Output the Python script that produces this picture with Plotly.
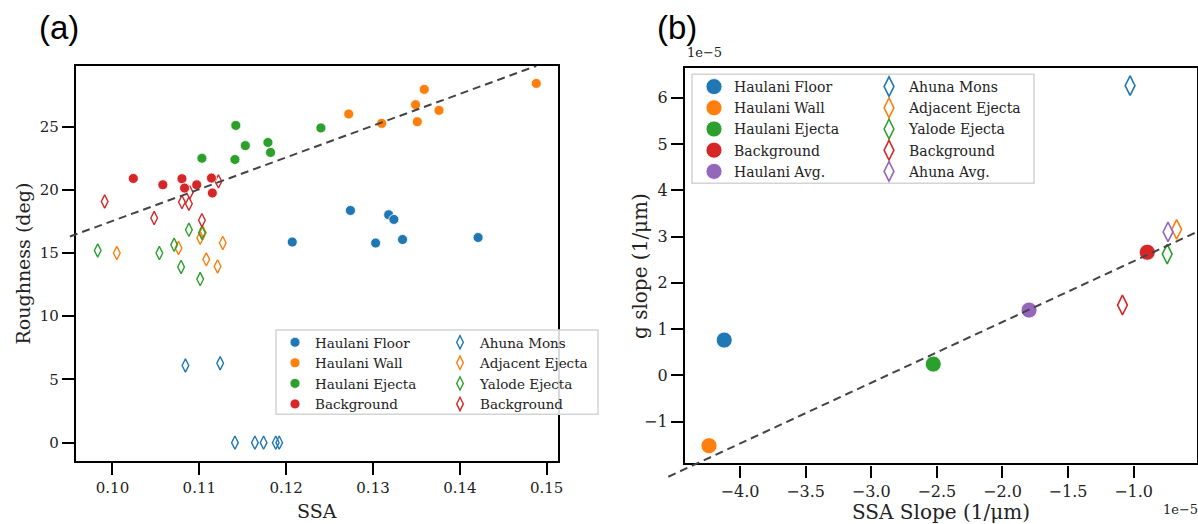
import plotly.graph_objects as go

# ---------------- Panel (a): SSA vs Roughness (deg) ----------------
haulani_floor_ssa = [0.1207, 0.1274, 0.1318, 0.1324, 0.1303, 0.1334, 0.1421]
haulani_floor_rough = [15.87, 18.37, 18.03, 17.66, 15.79, 16.07, 16.23]
haulani_wall_ssa = [0.1272, 0.1310, 0.1349, 0.1359, 0.1351, 0.1376, 0.1488]
haulani_wall_rough = [26.0, 25.26, 26.74, 27.95, 25.39, 26.29, 28.42]
haulani_ejecta_ssa = [0.1103, 0.1141, 0.1142, 0.1153, 0.1179, 0.1182, 0.1240]
haulani_ejecta_rough = [22.5, 22.4, 25.1, 23.5, 23.75, 22.96, 24.9]
background_h_ssa = [0.1024, 0.1058, 0.1080, 0.1083, 0.1097, 0.1114, 0.1115]
background_h_rough = [20.9, 20.4, 20.88, 20.14, 20.4, 20.93, 19.75]

ahuna_mons_ssa = [0.1084, 0.1124, 0.1141, 0.1164, 0.1174, 0.1188, 0.1192]
ahuna_mons_rough = [6.1, 6.28, 0.0, 0.0, 0.0, 0.0, 0.0]
adjacent_ejecta_ssa = [0.1005, 0.1076, 0.1101, 0.1104, 0.1127, 0.1108, 0.1121]
adjacent_ejecta_rough = [15.0, 15.4, 16.2, 16.6, 15.8, 14.5, 13.94]
yalode_ejecta_ssa = [0.0983, 0.1054, 0.1071, 0.1088, 0.1103, 0.1079, 0.1101]
yalode_ejecta_rough = [15.2, 15.0, 15.65, 16.84, 16.6, 13.9, 12.94]
background_a_ssa = [0.0991, 0.1048, 0.1080, 0.1088, 0.1089, 0.1103, 0.1122]
background_a_rough = [19.08, 17.77, 19.03, 18.9, 19.8, 17.6, 20.67]

fit_a_slope = 251.3
fit_a_intercept = -7.59
fit_a_x = [0.0951, 0.1488]

# ---------------- Panel (b): SSA slope vs g slope (units of 1e-5) ----------------
b_circle_names = ["Haulani Floor", "Haulani Wall", "Haulani Ejecta", "Background", "Haulani Avg."]
b_circle_x = [-4.12, -4.236, -2.527, -0.896, -1.797]
b_circle_y = [0.763, -1.52, 0.244, 2.66, 1.41]
b_diamond_names = ["Ahuna Mons", "Adjacent Ejecta", "Yalode Ejecta", "Background", "Ahuna Avg."]
b_diamond_x = [-1.027, -0.672, -0.744, -1.085, -0.738]
b_diamond_y = [6.26, 3.155, 2.62, 1.52, 3.10]

fit_b_slope = 1.313
fit_b_intercept = 3.779
fit_b_x = [-4.546, -0.45]

# ---------------- styling ----------------
OFF = 0                      # body margin removed by post_script below
W, H = 1198, 524
C = ["#1f77b4", "#ff7f0e", "#2ca02c", "#d62728", "#9467bd"]
SERIF = "DejaVu Serif"
TXT = "#222222"


def px(p):
    return (p - OFF) / W


def py(p):
    return 1 - (p - OFF) / H


def dom_x(p0, p1):
    return [max(0, px(p0)), min(1, px(p1))]


def dom_y(top, bottom):
    return [max(0, py(bottom)), min(1, py(top))]


def ext_range(r0, r1, p0, p1, q0, q1):
    s = (r1 - r0) / (p1 - p0)
    return [r0 + (q0 - p0) * s, r0 + (q1 - p0) * s]


# panel a geometry (window pixels)
A_L, A_R, A_T, A_B = 76, 558, 66, 460.7
A_XR = [0.0958, 0.1513]
A_YR = [-1.43, 29.8]
# panel b geometry
B_L, B_R, B_T, B_B = 685, 1197, 68.3, 463.3
B_XR = [-4.419, -0.517]
B_YR = [-1.90, 6.635]

fig = go.Figure()

# ----- panel (a) traces: diamonds first, circles on top -----
a_diamonds = [
    ("Ahuna Mons", ahuna_mons_ssa, ahuna_mons_rough, C[0]),
    ("Adjacent Ejecta", adjacent_ejecta_ssa, adjacent_ejecta_rough, C[1]),
    ("Yalode Ejecta", yalode_ejecta_ssa, yalode_ejecta_rough, C[2]),
    ("Background", background_a_ssa, background_a_rough, C[3]),
]
for name, xs, ys, col in a_diamonds:
    fig.add_trace(go.Scatter(
        x=xs, y=ys, mode="markers", name=name, legend="legend2",
        marker=dict(symbol="diamond-tall-open", size=9.5, color=col,
                    line=dict(width=1.4, color=col)),
        xaxis="x", yaxis="y"))

a_circles = [
    ("Haulani Floor", haulani_floor_ssa, haulani_floor_rough, C[0]),
    ("Haulani Wall", haulani_wall_ssa, haulani_wall_rough, C[1]),
    ("Haulani Ejecta", haulani_ejecta_ssa, haulani_ejecta_rough, C[2]),
    ("Background", background_h_ssa, background_h_rough, C[3]),
]
for name, xs, ys, col in a_circles:
    fig.add_trace(go.Scatter(
        x=xs, y=ys, mode="markers", name=name, legend="legend",
        marker=dict(symbol="circle", size=10, color=col,
                    line=dict(width=0.8, color="white")),
        xaxis="x", yaxis="y"))

# ----- panel (b) traces -----
for name, xv, yv, col in zip(b_diamond_names, b_diamond_x, b_diamond_y, C):
    fig.add_trace(go.Scatter(
        x=[xv], y=[yv], mode="markers", name=name, legend="legend4",
        marker=dict(symbol="diamond-tall-open", size=14, color=col,
                    line=dict(width=1.6, color=col)),
        xaxis="x2", yaxis="y2"))
for name, xv, yv, col in zip(b_circle_names, b_circle_x, b_circle_y, C):
    fig.add_trace(go.Scatter(
        x=[xv], y=[yv], mode="markers", name=name, legend="legend3",
        marker=dict(symbol="circle", size=16, color=col,
                    line=dict(width=0.8, color="white")),
        xaxis="x2", yaxis="y2"))

# ----- fit lines on extended (invisible) overlay axes so they can run past the spines -----
fig.add_trace(go.Scatter(
    x=fit_a_x, y=[fit_a_slope * v + fit_a_intercept for v in fit_a_x],
    mode="lines", showlegend=False, hoverinfo="skip",
    line=dict(color="#444444", width=2, dash="8px,5px"),
    xaxis="x3", yaxis="y3"))
fig.add_trace(go.Scatter(
    x=fit_b_x, y=[fit_b_slope * v + fit_b_intercept for v in fit_b_x],
    mode="lines", showlegend=False, hoverinfo="skip",
    line=dict(color="#444444", width=2, dash="8px,5px"),
    xaxis="x4", yaxis="y4"))

axis_common = dict(
    showline=True, linecolor="black", linewidth=2.4, mirror=True,
    ticks="outside", ticklen=12, tickwidth=2.2, tickcolor="black",
    showgrid=False, zeroline=False, automargin=False,
)

# extended overlay ranges
A_EXT = dict(L=60, R=558, T=66, B=482)
B_EXT = dict(L=650, R=1198, T=68.3, B=492)
a3x = ext_range(A_XR[0], A_XR[1], A_L, A_R, A_EXT["L"], A_EXT["R"])
a3y = ext_range(A_YR[0], A_YR[1], -A_B, -A_T, -A_EXT["B"], -A_EXT["T"])
b4x = ext_range(B_XR[0], B_XR[1], B_L, B_R, B_EXT["L"], B_EXT["R"])
b4y = ext_range(B_YR[0], B_YR[1], -B_B, -B_T, -B_EXT["B"], -B_EXT["T"])

leg_common = dict(xanchor="left", yanchor="top", bgcolor="rgba(0,0,0,0)",
                  borderwidth=0, tracegroupgap=0)

fig.update_layout(
    width=W, height=H,
    margin=dict(l=0, r=0, t=0, b=0),
    paper_bgcolor="white", plot_bgcolor="rgba(0,0,0,0)",
    font=dict(family=SERIF, color=TXT),
    xaxis=dict(domain=dom_x(A_L, A_R), range=A_XR, anchor="y",
               tick0=0.10, dtick=0.01, tickformat=".2f",
               tickfont=dict(family=SERIF, size=15, color=TXT), **axis_common),
    yaxis=dict(domain=dom_y(A_T, A_B), range=A_YR, anchor="x",
               tick0=0, dtick=5,
               tickfont=dict(family=SERIF, size=15, color=TXT), **axis_common),
    xaxis2=dict(domain=dom_x(B_L, B_R), range=B_XR, anchor="y2",
                tick0=-4.0, dtick=0.5, tickformat=".1f",
                tickfont=dict(family=SERIF, size=16, color=TXT), **axis_common),
    yaxis2=dict(domain=dom_y(B_T, B_B), range=B_YR, anchor="x2",
                tick0=0, dtick=1,
                tickfont=dict(family=SERIF, size=16, color=TXT), **axis_common),
    xaxis3=dict(domain=dom_x(A_EXT["L"], A_EXT["R"]), range=a3x, anchor="y3", visible=False),
    yaxis3=dict(domain=dom_y(A_EXT["T"], A_EXT["B"]), range=a3y, anchor="x3", visible=False),
    xaxis4=dict(domain=dom_x(B_EXT["L"], B_EXT["R"]), range=b4x, anchor="y4", visible=False),
    yaxis4=dict(domain=dom_y(B_EXT["T"], B_EXT["B"]), range=b4y, anchor="x4", visible=False),
    legend=dict(x=px(275), y=py(327), font=dict(family=SERIF, size=13.5, color=TXT), **leg_common),
    legend2=dict(x=px(440), y=py(327), font=dict(family=SERIF, size=13.5, color=TXT), **leg_common),
    legend3=dict(x=px(694), y=py(71), font=dict(family=SERIF, size=14, color=TXT), **leg_common),
    legend4=dict(x=px(869), y=py(71), font=dict(family=SERIF, size=14, color=TXT), **leg_common),
)

# legend frames
for (x0, x1, y0, y1) in [(276, 598, 330, 414.3), (692, 1034, 74.3, 183.3)]:
    fig.add_shape(type="rect", xref="paper", yref="paper", layer="above",
                  x0=px(x0), x1=px(x1), y0=py(y1), y1=py(y0),
                  fillcolor="rgba(255,255,255,0.85)",
                  line=dict(color="#d4d4d4", width=1.5))

# texts: panel labels, axis titles, offset labels
texts = [
    ("(a)", 59, 28, 0, "center", dict(family="Liberation Sans, Arial", size=33, color="black")),
    ("(b)", 677, 28, 0, "center", dict(family="Liberation Sans, Arial", size=33, color="black")),
    ("SSA", 317, 511, 0, "center", dict(family=SERIF, size=19, color=TXT)),
    ("Roughness (deg)", 22.5, 264, -90, "center", dict(family=SERIF, size=19, color=TXT)),
    ("SSA Slope (1/μm)", 941, 512, 0, "center", dict(family=SERIF, size=20, color=TXT)),
    ("g slope (1/μm)", 640, 266, -90, "center", dict(family=SERIF, size=20, color=TXT)),
    ("1e−5", 685, 52, 0, "left", dict(family=SERIF, size=13, color=TXT)),
    ("1e−5", 1161, 509, 0, "left", dict(family=SERIF, size=13, color=TXT)),
]
for t, x_, y_, ang, xa, f in texts:
    fig.add_annotation(text=t, x=px(x_), y=py(y_), xref="paper", yref="paper",
                       xanchor=xa, yanchor="middle", showarrow=False,
                       textangle=ang, font=f)

fig.write_html(
    "out.html",
    config={"displayModeBar": False},
    post_script="document.body.style.margin='0px';document.body.style.overflow='hidden';",
)
